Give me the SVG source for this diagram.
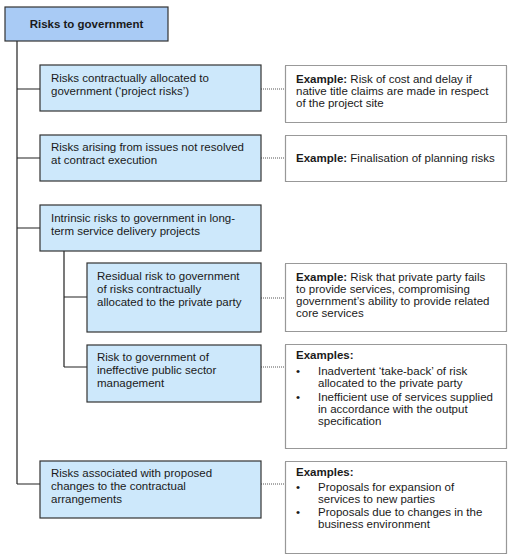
<svg xmlns="http://www.w3.org/2000/svg" width="517" height="555" viewBox="0 0 517 555">
<style>
  text { font-family: "Liberation Sans", Arial, sans-serif; font-size: 11.5px; fill: #1a1a1a; }
  .b { font-weight: bold; }
  .root { fill: #a9cbf5; stroke: #333; stroke-width: 1.2; }
  .risk { fill: #cde8fb; stroke: #333; stroke-width: 1.2; }
  .ex { fill: #fff; stroke: #333; stroke-width: 1.2; stroke-dasharray: 1 1; }
  .tree { stroke: #222; stroke-width: 1.2; fill: none; }
  .dot { stroke: #555; stroke-width: 1; stroke-dasharray: 1 1; fill: none; }
</style>
<rect width="517" height="555" fill="#fff"/>
<g id="connectors">
  <path class="tree" d="M17 41 V484 M17 89 H40 M17 158 H40 M17 228 H40 M17 484 H40"/>
  <path class="tree" d="M64 251 V367 M64 297 H87 M64 367 H87"/>
  <path class="dot" d="M261 89 H285 M261 158 H285 M261 298 H285 M261 367 H285 M261 484 H285"/>
</g>
<g id="root">
  <rect class="root" x="5" y="7" width="163" height="34"/>
  <text class="b" x="86.5" y="28" text-anchor="middle">Risks to government</text>
</g>
<g id="risk1">
  <rect class="risk" x="40" y="65" width="221" height="46"/>
  <text x="51" y="82">Risks contractually allocated to</text>
  <text x="51" y="95">government (‘project risks’)</text>
</g>
<g id="risk2">
  <rect class="risk" x="40" y="135" width="221" height="46"/>
  <text x="51" y="151">Risks arising from issues not resolved</text>
  <text x="51" y="164">at contract execution</text>
</g>
<g id="risk3">
  <rect class="risk" x="40" y="205" width="221" height="46"/>
  <text x="51" y="222">Intrinsic risks to government in long-</text>
  <text x="51" y="235">term service delivery projects</text>
</g>
<g id="risk4">
  <rect class="risk" x="87" y="263" width="174" height="69"/>
  <text x="97" y="280">Residual risk to government</text>
  <text x="97" y="293">of risks contractually</text>
  <text x="97" y="306">allocated to the private party</text>
</g>
<g id="risk5">
  <rect class="risk" x="87" y="345" width="174" height="57"/>
  <text x="97" y="361">Risk to government of</text>
  <text x="97" y="374">ineffective public sector</text>
  <text x="97" y="387">management</text>
</g>
<g id="risk6">
  <rect class="risk" x="40" y="461" width="221" height="57"/>
  <text x="51" y="477">Risks associated with proposed</text>
  <text x="51" y="490">changes to the contractual</text>
  <text x="51" y="503">arrangements</text>
</g>
<g id="example1">
  <rect class="ex" x="285.5" y="65.5" width="221" height="57"/>
  <text x="296" y="83"><tspan class="b">Example:</tspan> Risk of cost and delay if</text>
  <text x="296" y="95">native title claims are made in respect</text>
  <text x="296" y="107">of the project site</text>
</g>
<g id="example2">
  <rect class="ex" x="285.5" y="135.5" width="221" height="46"/>
  <text x="296" y="162"><tspan class="b">Example:</tspan> Finalisation of planning risks</text>
</g>
<g id="example3">
  <rect class="ex" x="285.5" y="263.5" width="221" height="68"/>
  <text x="296" y="281"><tspan class="b">Example:</tspan> Risk that private party fails</text>
  <text x="296" y="293">to provide services, compromising</text>
  <text x="296" y="305">government’s ability to provide related</text>
  <text x="296" y="317">core services</text>
</g>
<g id="example4">
  <rect class="ex" x="285.5" y="344.5" width="221" height="104"/>
  <text class="b" x="296" y="359">Examples:</text>
  <text x="296" y="375">•</text>
  <text x="318" y="375">Inadvertent ‘take-back’ of risk</text>
  <text x="318" y="387">allocated to the private party</text>
  <text x="296" y="401">•</text>
  <text x="318" y="401">Inefficient use of services supplied</text>
  <text x="318" y="413">in accordance with the output</text>
  <text x="318" y="425">specification</text>
</g>
<g id="example5">
  <rect class="ex" x="285.5" y="461.5" width="221" height="92"/>
  <text class="b" x="296" y="476">Examples:</text>
  <text x="296" y="491">•</text>
  <text x="318" y="491">Proposals for expansion of</text>
  <text x="318" y="503">services to new parties</text>
  <text x="296" y="516">•</text>
  <text x="318" y="516">Proposals due to changes in the</text>
  <text x="318" y="528">business environment</text>
</g>
</svg>
